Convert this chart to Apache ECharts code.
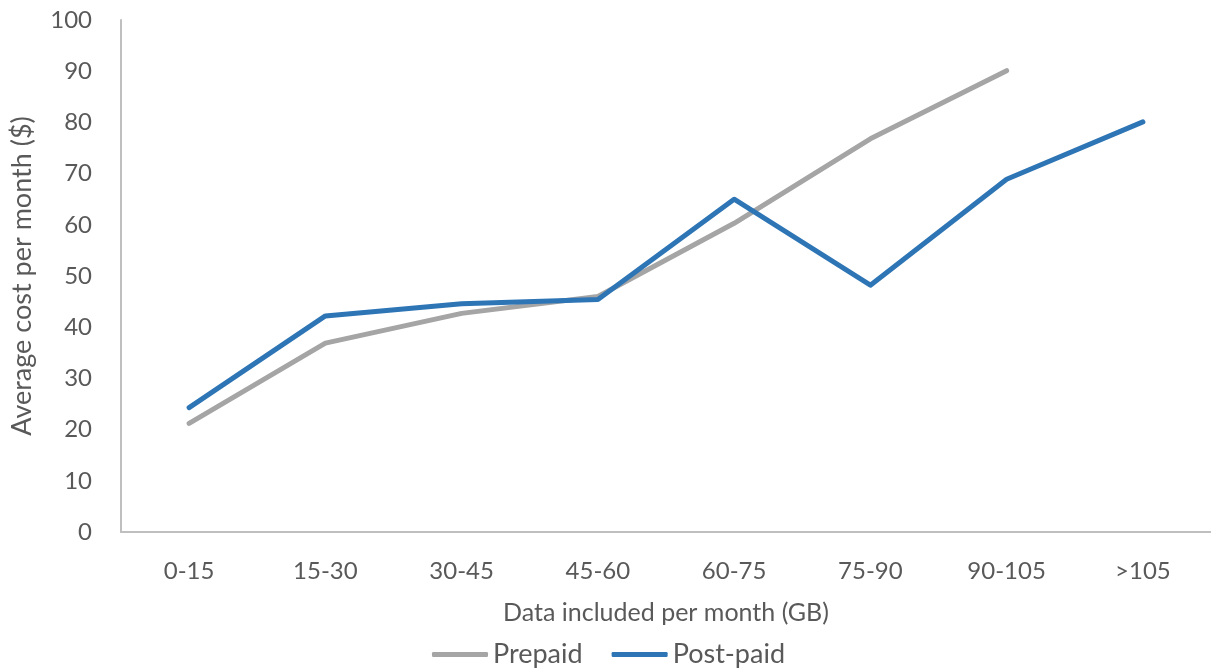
<!DOCTYPE html>
<html>
<head>
<meta charset="utf-8">
<script src="https://cdn.jsdelivr.net/npm/echarts@6/dist/echarts.min.js"></script>
<style>
  html, body { margin: 0; padding: 0; background: #ffffff; }
  #chart { width: 1211px; height: 670px; }
</style>
</head>
<body>
<div id="chart"></div>
<script>
// Data-bucket categories (GB per month)
const categories = ['0-15', '15-30', '30-45', '45-60', '60-75', '75-90', '90-105', '>105'];
// Average monthly cost in dollars
const prepaid = [21.2, 36.9, 42.7, 46.0, 60.3, 76.8, 90.1, null];
const postPaid = [24.3, 42.2, 44.6, 45.4, 65.0, 48.2, 68.9, 80.1];

const textColor = '#595959';
const axisColor = '#BFBFBF';
const fontFamily = 'Lato, "Open Sans", sans-serif';

const chart = echarts.init(document.getElementById('chart'));
chart.setOption({
  animation: false,
  backgroundColor: '#ffffff',
  textStyle: { fontFamily: fontFamily, color: textColor },
  grid: { left: 121, top: 20, width: 1093, height: 512, containLabel: false },
  legend: {
    left: 432,
    top: 641,
    padding: 0,
    icon: 'roundRect',
    itemWidth: 56,
    itemHeight: 5,
    itemGap: 29,
    textStyle: { fontSize: 27, color: textColor, fontFamily: fontFamily },
    data: ['Prepaid', 'Post-paid']
  },
  xAxis: {
    type: 'category',
    data: categories,
    boundaryGap: true,
    name: 'Data included per month (GB)',
    nameLocation: 'middle',
    nameGap: 68,
    nameTextStyle: { fontSize: 25, color: textColor },
    axisLine: { lineStyle: { color: axisColor, width: 2 } },
    axisTick: { show: false },
    axisLabel: { fontSize: 24, color: textColor, margin: 27 },
    splitLine: { show: false }
  },
  yAxis: {
    type: 'value',
    min: 0,
    max: 100,
    interval: 10,
    name: 'Average cost per month ($)',
    nameLocation: 'middle',
    nameGap: 85,
    nameTextStyle: { fontSize: 27, color: textColor },
    axisLine: { show: true, lineStyle: { color: axisColor, width: 2 } },
    axisTick: { show: false },
    axisLabel: { fontSize: 24, color: textColor, margin: 29 },
    splitLine: { show: false }
  },
  series: [
    {
      name: 'Prepaid',
      type: 'line',
      data: prepaid,
      symbol: 'none',
      connectNulls: false,
      itemStyle: { color: '#A5A5A5' },
      lineStyle: { color: '#A5A5A5', width: 5, cap: 'round', join: 'round' }
    },
    {
      name: 'Post-paid',
      type: 'line',
      data: postPaid,
      symbol: 'none',
      itemStyle: { color: '#2E75B6' },
      lineStyle: { color: '#2E75B6', width: 5, cap: 'round', join: 'round' }
    }
  ]
});
</script>
</body>
</html>
